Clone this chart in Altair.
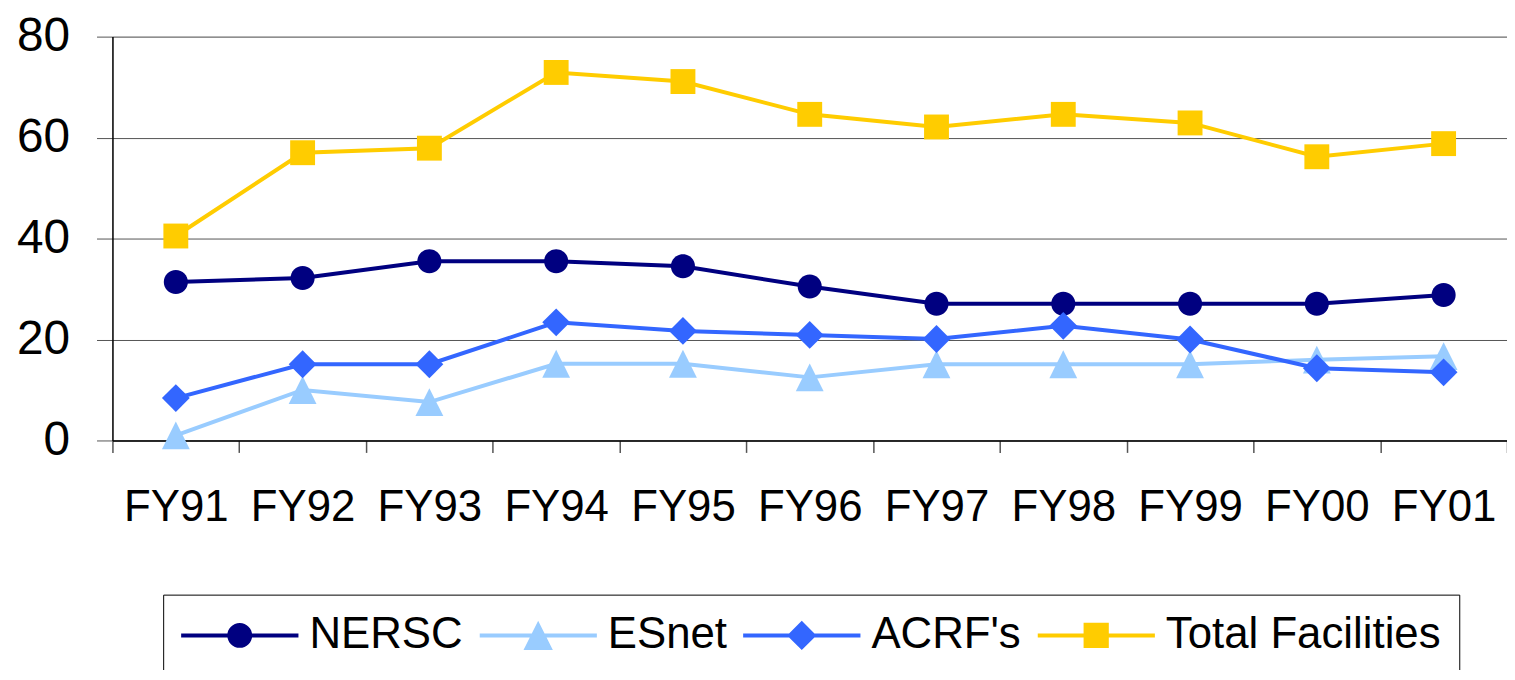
import altair as alt
import pandas as pd

years = ["FY91", "FY92", "FY93", "FY94", "FY95", "FY96", "FY97", "FY98", "FY99", "FY00", "FY01"]
series_names = ["NERSC", "ESnet", "ACRF's", "Total Facilities"]
nersc = [31.4, 32.2, 35.5, 35.5, 34.5, 30.5, 27.1, 27.1, 27.1, 27.1, 28.8]
esnet = [1.0, 10.0, 7.6, 15.2, 15.2, 12.5, 15.1, 15.1, 15.1, 16.0, 16.7]
acrf = [8.4, 15.1, 15.1, 23.4, 21.7, 20.9, 20.1, 22.7, 20.0, 14.3, 13.5]
total = [40.5, 57.0, 57.9, 72.9, 71.1, 64.6, 62.1, 64.6, 62.9, 56.2, 58.8]
colors = ["#000080", "#99CCFF", "#3366FF", "#FFCC00"]
y_ticks = [0, 20, 40, 60, 80]

SYM = 13924  # symbol box: sqrt = 118 px

# chart marker shapes (unit box [-1,1] = 118 px)
marker_paths = [
    "M0.205,0A0.205,0.205,0,1,1,-0.205,0A0.205,0.205,0,1,1,0.205,0Z",
    "M0,-0.237L0.237,0.237L-0.237,0.237Z",
    "M0,-0.237L0.237,0L0,0.237L-0.237,0Z",
    "M-0.212,-0.212H0.212V0.212H-0.212Z",
]
seg = "M-1,-0.034H-0.1V0.034H-1Z M0.1,-0.034H1V0.034H0.1Z "
legend_paths = [
    seg + "M0.212,0A0.212,0.212,0,1,1,-0.212,0A0.212,0.212,0,1,1,0.212,0Z",
    seg + "M0,-0.25L0.25,0.25L-0.25,0.25Z",
    seg + "M0,-0.25L0.25,0L0,0.25L-0.25,0Z",
    seg + "M-0.215,-0.215H0.215V0.215H-0.215Z",
]

rows = []
for name, vals in zip(series_names, [nersc, esnet, acrf, total]):
    for yr, v in zip(years, vals):
        rows.append({"year": yr, "series": name, "value": v})
df = pd.DataFrame(rows)

FONT = "Liberation Sans"

legend = alt.Legend(
    title=None,
    orient="none",
    legendX=51,
    legendY=561,
    direction="horizontal",
    columns=4,
    labelFont=FONT,
    labelFontSize=44,
    labelColor="#000000",
    labelLimit=500,
    labelOffset=11,
    columnPadding=16,
    padding=18,
    clipHeight=46,
    strokeColor="#000000",
    fillColor="#ffffff",
    symbolSize=SYM,
    symbolStrokeWidth=0,
    symbolOpacity=1,
    symbolFillColor="#000000",
)

x_enc = alt.X(
    "year:N",
    sort=years,
    bandPosition=0.5,
    scale=alt.Scale(type="band", paddingInner=0, paddingOuter=0),
    axis=alt.Axis(
        title=None,
        labelAngle=0,
        labelFont=FONT,
        labelFontSize=44,
        labelColor="#000000",
        labelPadding=33,
        tickBand="extent",
        tickSize=12,
        tickColor="#555555",
        tickWidth=1.5,
        domainColor="#000000",
        domainWidth=1.5,
        grid=False,
    ),
)
y_enc = alt.Y(
    "value:Q",
    scale=alt.Scale(domain=[0, 80], nice=False),
    axis=alt.Axis(
        title=None,
        values=y_ticks,
        labelFont=FONT,
        labelFontSize=48,
        labelColor="#000000",
        labelPadding=27,
        tickSize=16,
        tickColor="#555555",
        domainColor="#000000",
        domainWidth=1.5,
        grid=True,
        gridColor="#555555",
        gridWidth=1,
    ),
)
fill_enc = alt.Fill(
    "series:N",
    sort=series_names,
    scale=alt.Scale(domain=series_names, range=colors),
    legend=legend,
)

base = alt.Chart(df)

# stroke scale domain derived from data (sorted) so its legend (disabled) is kept apart
lines = base.mark_line(strokeWidth=4).encode(
    x=x_enc,
    y=y_enc,
    stroke=alt.Stroke("series:N", sort=series_names, scale=alt.Scale(range=colors), legend=None),
)

point_layers = [
    base.transform_filter(alt.datum.series == name)
    .mark_point(filled=True, shape=path, size=SYM, opacity=1, strokeWidth=0)
    .encode(x=x_enc, y=y_enc, fill=fill_enc)
    for name, path in zip(series_names, marker_paths)
]

legend_layer = (
    base.transform_filter("false")
    .mark_point(filled=True, size=SYM, opacity=1, strokeWidth=0)
    .encode(
        x=x_enc,
        y=y_enc,
        fill=fill_enc,
        shape=alt.Shape(
            "series:N",
            sort=series_names,
            scale=alt.Scale(domain=series_names, range=legend_paths),
            legend=legend,
        ),
    )
)

chart = (
    alt.layer(lines, *point_layers, legend_layer)
    .properties(
        width=1402,
        height=406,
        autosize=alt.AutoSizeParams(type="none"),
        padding={"left": 105, "top": 27, "right": 0, "bottom": 229},
    )
    .configure_view(stroke=None)
    .configure(background="#ffffff")
)

chart.save("out.html", embed_options={"renderer": "svg", "actions": False})
